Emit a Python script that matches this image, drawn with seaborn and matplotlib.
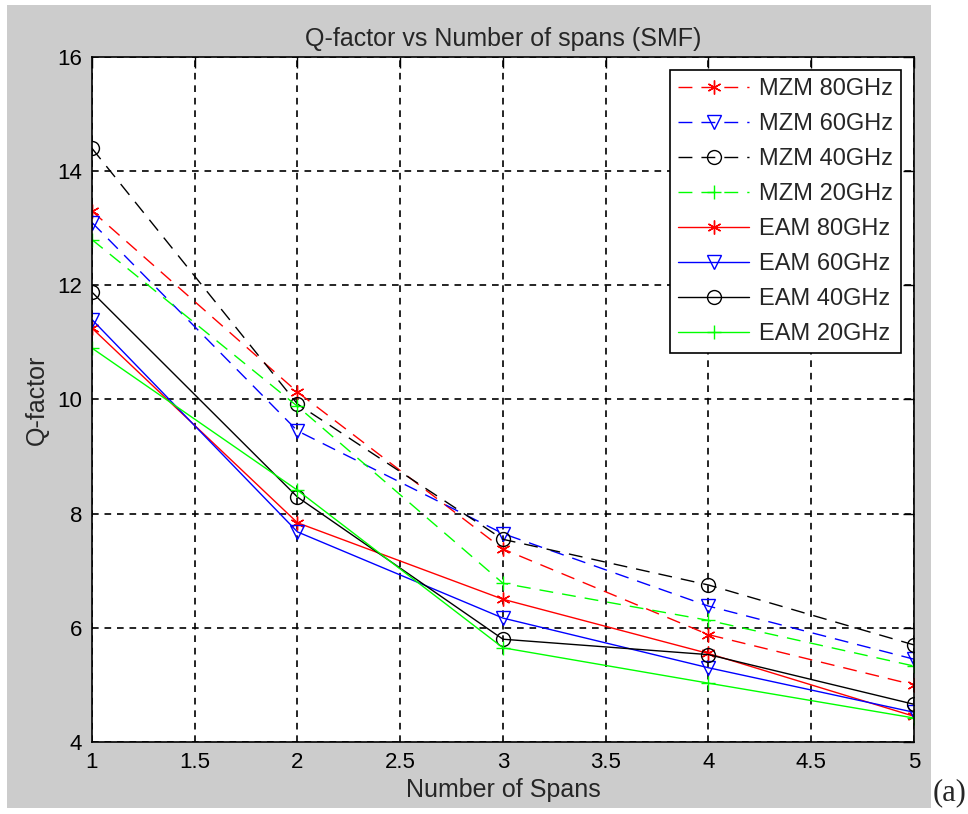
import pandas as pd
import matplotlib.pyplot as plt
import seaborn as sns
from matplotlib.patches import Rectangle

# Data
spans = [1, 2, 3, 4, 5]
mzm_80 = [13.30, 10.13, 7.38, 5.88, 5.00]
mzm_60 = [13.10, 9.45, 7.65, 6.38, 5.45]
mzm_40 = [14.40, 9.92, 7.55, 6.75, 5.70]
mzm_20 = [12.80, 9.88, 6.78, 6.13, 5.33]
eam_80 = [11.25, 7.84, 6.50, 5.55, 4.45]
eam_60 = [11.40, 7.68, 6.17, 5.30, 4.52]
eam_40 = [11.88, 8.29, 5.80, 5.53, 4.66]
eam_20 = [10.90, 8.41, 5.65, 5.03, 4.42]

asterisk = (6, 2, 0)  # MATLAB-like '*'
dash = (0, (10, 6.5))
series = [
    ("MZM 80GHz", mzm_80, "#ff0000", asterisk, dash),
    ("MZM 60GHz", mzm_60, "#0000ff", "v", dash),
    ("MZM 40GHz", mzm_40, "#000000", "o", dash),
    ("MZM 20GHz", mzm_20, "#00ff00", "+", dash),
    ("EAM 80GHz", eam_80, "#ff0000", asterisk, "-"),
    ("EAM 60GHz", eam_60, "#0000ff", "v", "-"),
    ("EAM 40GHz", eam_40, "#000000", "o", "-"),
    ("EAM 20GHz", eam_20, "#00ff00", "+", "-"),
]

x_ticks = [1, 1.5, 2, 2.5, 3, 3.5, 4, 4.5, 5]
x_tick_labels = ["1", "1.5", "2", "2.5", "3", "3.5", "4", "4.5", "5"]
y_ticks = [4, 6, 8, 10, 12, 14, 16]

sns.set_style("white")
plt.rcParams["font.family"] = ["Liberation Sans", "DejaVu Sans"]

fig = plt.figure(figsize=(9.68, 8.14), dpi=100, facecolor="white")
# MATLAB-style grey figure panel
fig.patches.append(Rectangle((0.0072, 0.0074), 0.9546, 0.9865, transform=fig.transFigure,
                             facecolor="#cccccc", edgecolor="none", zorder=-10))
ax = fig.add_axes([0.095, 0.0885, 0.8492, 0.8415])
ax.set_facecolor("white")

for name, vals, color, marker, ls in series:
    df = pd.DataFrame({"Spans": spans, "Q": vals})
    sns.lineplot(data=df, x="Spans", y="Q", ax=ax, color=color, marker=marker,
                 markersize=10, markerfacecolor="none", linestyle=ls,
                 markeredgecolor=color, markeredgewidth=1.0, linewidth=1.0,
                 label=name)

ax.set_xlim(1, 5)
ax.set_ylim(4, 16)
ax.set_xticks(x_ticks)
ax.set_xticklabels(x_tick_labels)
ax.set_yticks(y_ticks)
ax.grid(True, color="black", linestyle=(0, (4, 3.5)), linewidth=1.2)
ax.tick_params(direction="in", length=8, width=1, top=True, right=True,
               labelsize=16, pad=7, colors="black")
for s in ax.spines.values():
    s.set_color("black")
    s.set_linewidth(1.2)

ax.set_title("Q-factor vs Number of spans (SMF)", fontsize=18, pad=8)
ax.set_xlabel("Number of Spans", fontsize=18, labelpad=4)
ax.set_ylabel("Q-factor", fontsize=18, labelpad=6)

leg = ax.legend(loc="upper right", fontsize=17, frameon=True, fancybox=False,
                edgecolor="black", framealpha=1, handlelength=3.0,
                borderaxespad=0.55, labelspacing=0.55, handletextpad=0.4,
                borderpad=0.35)
leg.get_frame().set_linewidth(1.2)

fig.text(0.963, 0.008, "(a)", fontsize=22, family=["Liberation Serif", "DejaVu Serif"],
         ha="left", va="bottom")

plt.savefig("out.png", dpi=100, facecolor="white")
